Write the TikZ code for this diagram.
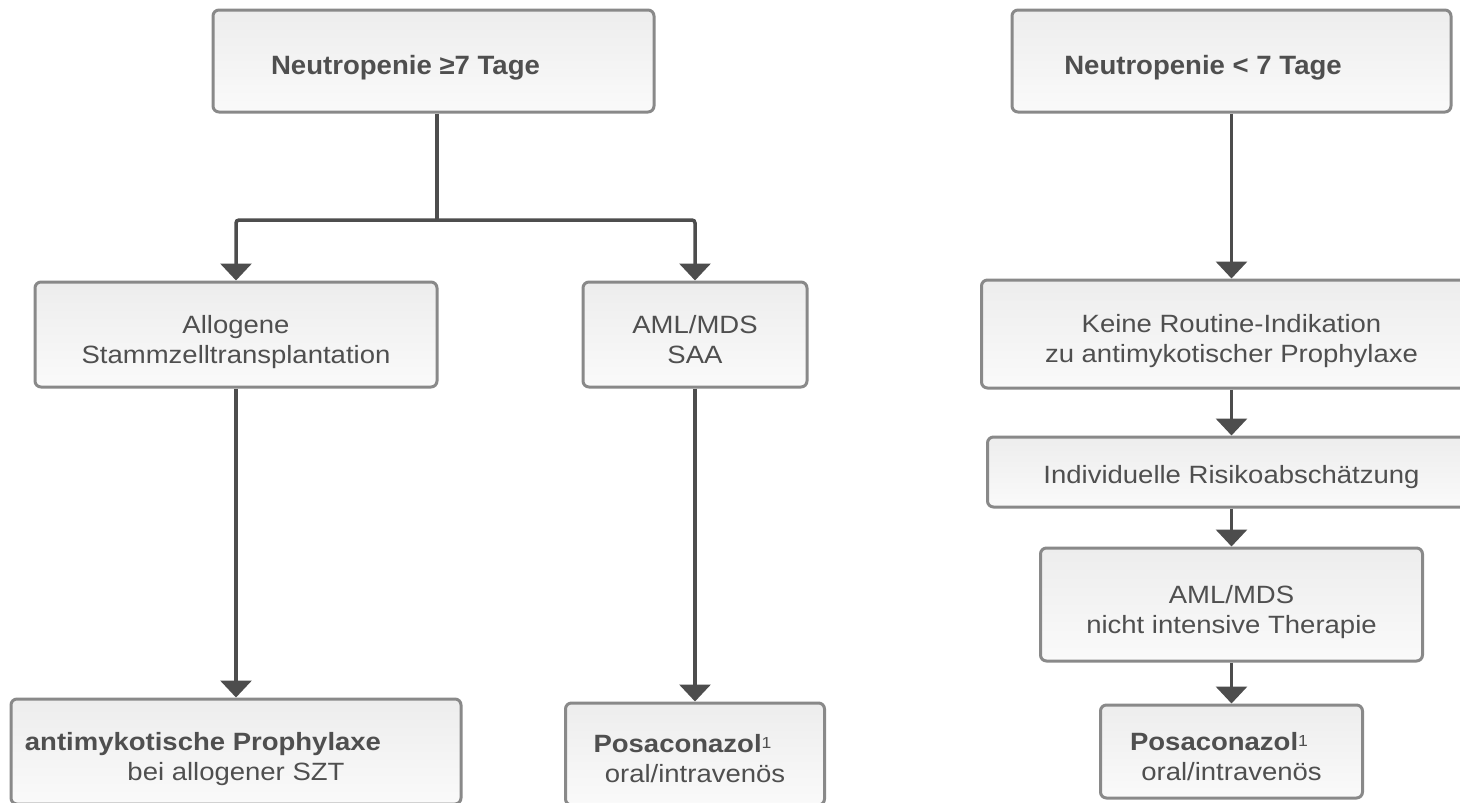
\documentclass[tikz,border=0pt]{standalone}
\usepackage{fontspec}
\setmainfont{Liberation Sans}[FakeStretch=1.1]
\newfontfamily\headfont{Liberation Sans}[FakeStretch=1.04]
\usetikzlibrary{arrows.meta}
\definecolor{fcline}{HTML}{4D4D4D}
\definecolor{fcedge}{HTML}{898989}
\definecolor{fctop}{HTML}{EDEDED}
\definecolor{fcbottom}{HTML}{FAFAFA}
\definecolor{fctext}{HTML}{4F4F4F}
\newcommand{\fnone}{\raisebox{4pt}{\fontsize{16}{16}\selectfont 1}}

\begin{document}
\begin{tikzpicture}[x=1pt, y=-1pt, >={Triangle[width=31pt, length=17pt]},
  fcbox/.style={draw=fcedge, line width=3pt, rounded corners=6pt,
    top color=fctop, bottom color=fcbottom, text=fctext, inner sep=0pt,
    align=center, font=\fontsize{25}{30}\selectfont},
  headbox/.style={fcbox, font=\headfont\fontsize{26.5}{30}\selectfont\bfseries,
    minimum height=102pt, text height=26pt, text depth=0pt},
  twoline/.style={text height=60pt, text depth=3pt},
  link/.style={draw=fcline, line width=3.5pt, ->}]
  \path[use as bounding box, clip] (0,0) rectangle (1460,803);

  % left side: neutropenia of 7 days or more
  \node[headbox, minimum width=441pt] (neu7) at (433.5,61) {Neutropenie ≥7 Tage\hspace*{56pt}};
  \node[fcbox, twoline, minimum width=402pt, minimum height=105pt] (allo) at (236,334.5) {Allogene\\Stammzelltransplantation};
  \node[fcbox, twoline, minimum width=224pt, minimum height=105pt] (aml) at (695,334.5) {AML/MDS\\SAA};
  \node[fcbox, twoline, minimum width=450pt, minimum height=105pt] (szt) at (236,751.5)
    {\textbf{antimykotische Prophylaxe}\hspace*{66pt}\\bei allogener SZT};
  \node[fcbox, twoline, minimum width=259pt, minimum height=102pt] (posaL) at (695,754)
    {\textbf{Posaconazol}\fnone\hspace*{25pt}\\oral/intravenös};

  \coordinate (fork) at (437,220);
  \draw[fcline, line width=3.5pt] (neu7.south -| fork) -- (fork);
  \draw[link, rounded corners=3pt] (fork) -| (allo.north);
  \draw[link, rounded corners=3pt] (fork) -| (aml.north);
  \draw[link] (allo) -- (szt);
  \draw[link] (aml) -- (posaL);

  % right side: neutropenia under 7 days
  \node[headbox, minimum width=439pt] (neu6) at (1231.5,61) {Neutropenie < 7 Tage\hspace*{57pt}};
  \node[fcbox, twoline, minimum width=500pt, minimum height=108pt] (keine) at (1231.5,334)
    {Keine Routine-Indikation\\zu antimykotischer Prophylaxe};
  \node[fcbox, text height=22pt, text depth=0pt, minimum width=488pt, minimum height=70pt] (risk) at (1231.5,472)
    {Individuelle Risikoabschätzung};
  \node[fcbox, twoline, minimum width=382pt, minimum height=113pt] (amlni) at (1231.5,604.5)
    {AML/MDS\\nicht intensive Therapie};
  \node[fcbox, twoline, minimum width=262pt, minimum height=93pt] (posaR) at (1231.5,751.5)
    {\textbf{Posaconazol}\fnone\hspace*{25pt}\\oral/intravenös};

  \draw[link] (neu6) -- (keine);
  \draw[link] (keine) -- (risk);
  \draw[link] (risk) -- (amlni);
  \draw[link] (amlni) -- (posaR);
\end{tikzpicture}
\end{document}
